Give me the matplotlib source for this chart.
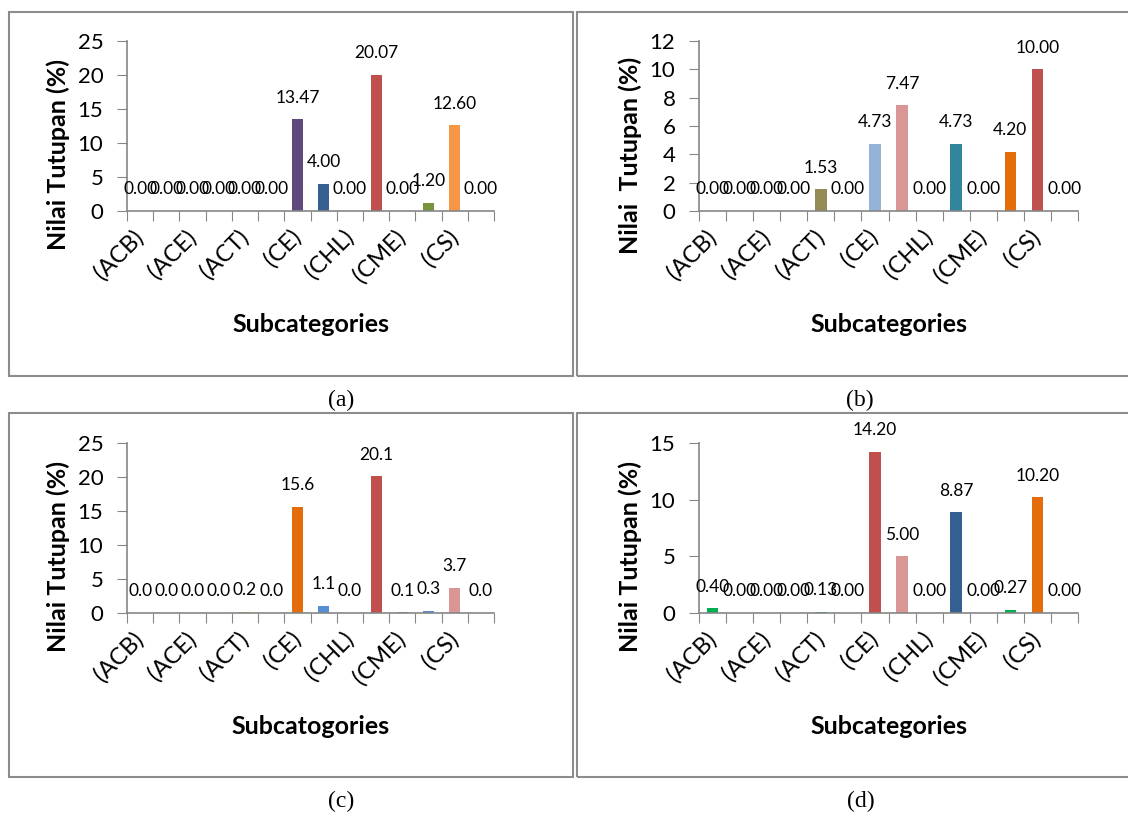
import matplotlib
matplotlib.use('Agg')
import matplotlib.pyplot as plt
from matplotlib.patches import Rectangle
import numpy as np

plt.rcParams['font.family'] = ['Lato', 'DejaVu Sans']

W, H = 1128, 814

# lifeform categories (Excel only shows every other label)
categories = ['(ACB)', '(ACD)', '(ACE)', '(ACS)', '(ACT)', '(CB)', '(CE)',
              '(CF)', '(CHL)', '(CM)', '(CME)', '(CMR)', '(CS)', '(CTU)']

vals_a = [0, 0, 0, 0, 0, 0, 13.47, 4.00, 0, 20.07, 0, 1.20, 12.60, 0]
vals_b = [0, 0, 0, 0, 1.53, 0, 4.73, 7.47, 0, 4.73, 0, 4.20, 10.00, 0]
vals_c = [0.0, 0.0, 0.0, 0.0, 0.2, 0.0, 15.6, 1.1, 0.0, 20.1, 0.1, 0.3, 3.7, 0.0]
vals_d = [0.40, 0, 0, 0, 0.13, 0, 14.20, 5.00, 0, 8.87, 0, 0.27, 10.20, 0]

cols_a = ['#4F81BD'] * 6 + ['#604A7B', '#376092', '#4F81BD', '#C0504D',
                            '#4F81BD', '#77933C', '#F79646', '#4F81BD']
cols_b = ['#4F81BD'] * 4 + ['#948A54', '#4F81BD', '#95B3D7', '#D99694',
                            '#4F81BD', '#31859C', '#4F81BD', '#E46C0A',
                            '#C0504D', '#4F81BD']
cols_c = ['#4F81BD'] * 4 + ['#92D050', '#4F81BD', '#E46C0A', '#558ED5',
                            '#4F81BD', '#C0504D', '#558ED5', '#558ED5',
                            '#D99694', '#4F81BD']
cols_d = ['#00B050', '#4F81BD', '#4F81BD', '#4F81BD', '#00B050', '#4F81BD',
          '#C0504D', '#D99694', '#4F81BD', '#376092', '#4F81BD', '#00B050',
          '#E46C0A', '#4F81BD']

panels = [
    # values, colours, ymax, ystep, label fmt, ylabel, xlabel, box, axes, tag
    (vals_a, cols_a, 25, 5, '{:.2f}', 'Nilai Tutupan (%)', 'Subcategories',
     (9, 12, 573, 376), (127, 41, 494, 211), '(a)', 341),
    (vals_b, cols_b, 12, 2, '{:.2f}', 'Nilai  Tutupan (%)', 'Subcategories',
     (577, 12, 1132, 376), (699, 41, 1078, 211), '(b)', 860),
    (vals_c, cols_c, 25, 5, '{:.1f}', 'Nilai Tutupan (%)', 'Subcatogories',
     (9, 413, 573, 777), (127, 443, 494, 613), '(c)', 341),
    (vals_d, cols_d, 15, 5, '{:.2f}', 'Nilai Tutupan (%)', 'Subcategories',
     (577, 413, 1132, 777), (699, 443, 1078, 613), '(d)', 861),
]

fig = plt.figure(figsize=(W / 100, H / 100), dpi=100)
grey = '#868686'

for vals, cols, ymax, ystep, fmt, ylab, xlab, box, pos, tag, tagx in panels:
    # panel frame
    x0, y0, x1, y1 = box
    fig.patches.append(Rectangle((x0 / W, 1 - y1 / H), (x1 - x0) / W,
                                 (y1 - y0) / H, transform=fig.transFigure,
                                 fill=False, ec='#8c8c8c', lw=1.5))
    fig.text(tagx / W, 1 - (y1 + 24) / H, tag,
             family='Liberation Serif', fontsize=17, ha='center', va='center')

    l, t, r, b = pos
    ax = fig.add_axes([l / W, 1 - b / H, (r - l) / W, (b - t) / H])
    x = np.arange(len(vals))
    ax.bar(x, vals, width=0.42, color=cols)
    for xi, v in zip(x, vals):
        ax.annotate(fmt.format(v), (xi, v), xytext=(0, 12),
                    textcoords='offset points', ha='center', va='baseline',
                    fontsize=12.5)

    ax.set_xlim(-0.5, len(vals) - 0.5)
    ax.set_ylim(0, ymax)
    ax.set_yticks(np.arange(0, ymax + 0.1, ystep))
    ax.tick_params(axis='y', length=7, color=grey, labelsize=16, pad=10)

    ax.set_xticks(np.arange(-0.5, len(vals)), labels=[])
    ax.set_xticks(x[::2], labels=categories[::2], minor=True)
    ax.tick_params(axis='x', which='major', length=7, color=grey)
    ax.tick_params(axis='x', which='minor', length=0, labelsize=17, pad=16)
    for lab in ax.get_xticklabels(minor=True):
        lab.set_rotation(45)
        lab.set_ha('right')
        lab.set_va('center')
        lab.set_rotation_mode('anchor')

    for s in ['top', 'right']:
        ax.spines[s].set_visible(False)
    for s in ['left', 'bottom']:
        ax.spines[s].set_color(grey)
        ax.spines[s].set_linewidth(1.2)

    ax.set_ylabel(ylab, fontsize=18, fontweight='bold', va='center', ha='center')
    ax.yaxis.set_label_coords(-69 / (r - l), (b - (t + b) / 2 - 29) / (b - t))
    ax.set_xlabel(xlab, fontsize=18, fontweight='bold', va='center')
    ax.xaxis.set_label_coords(0.5, -114 / (b - t))

fig.savefig('out.png', dpi=100)
